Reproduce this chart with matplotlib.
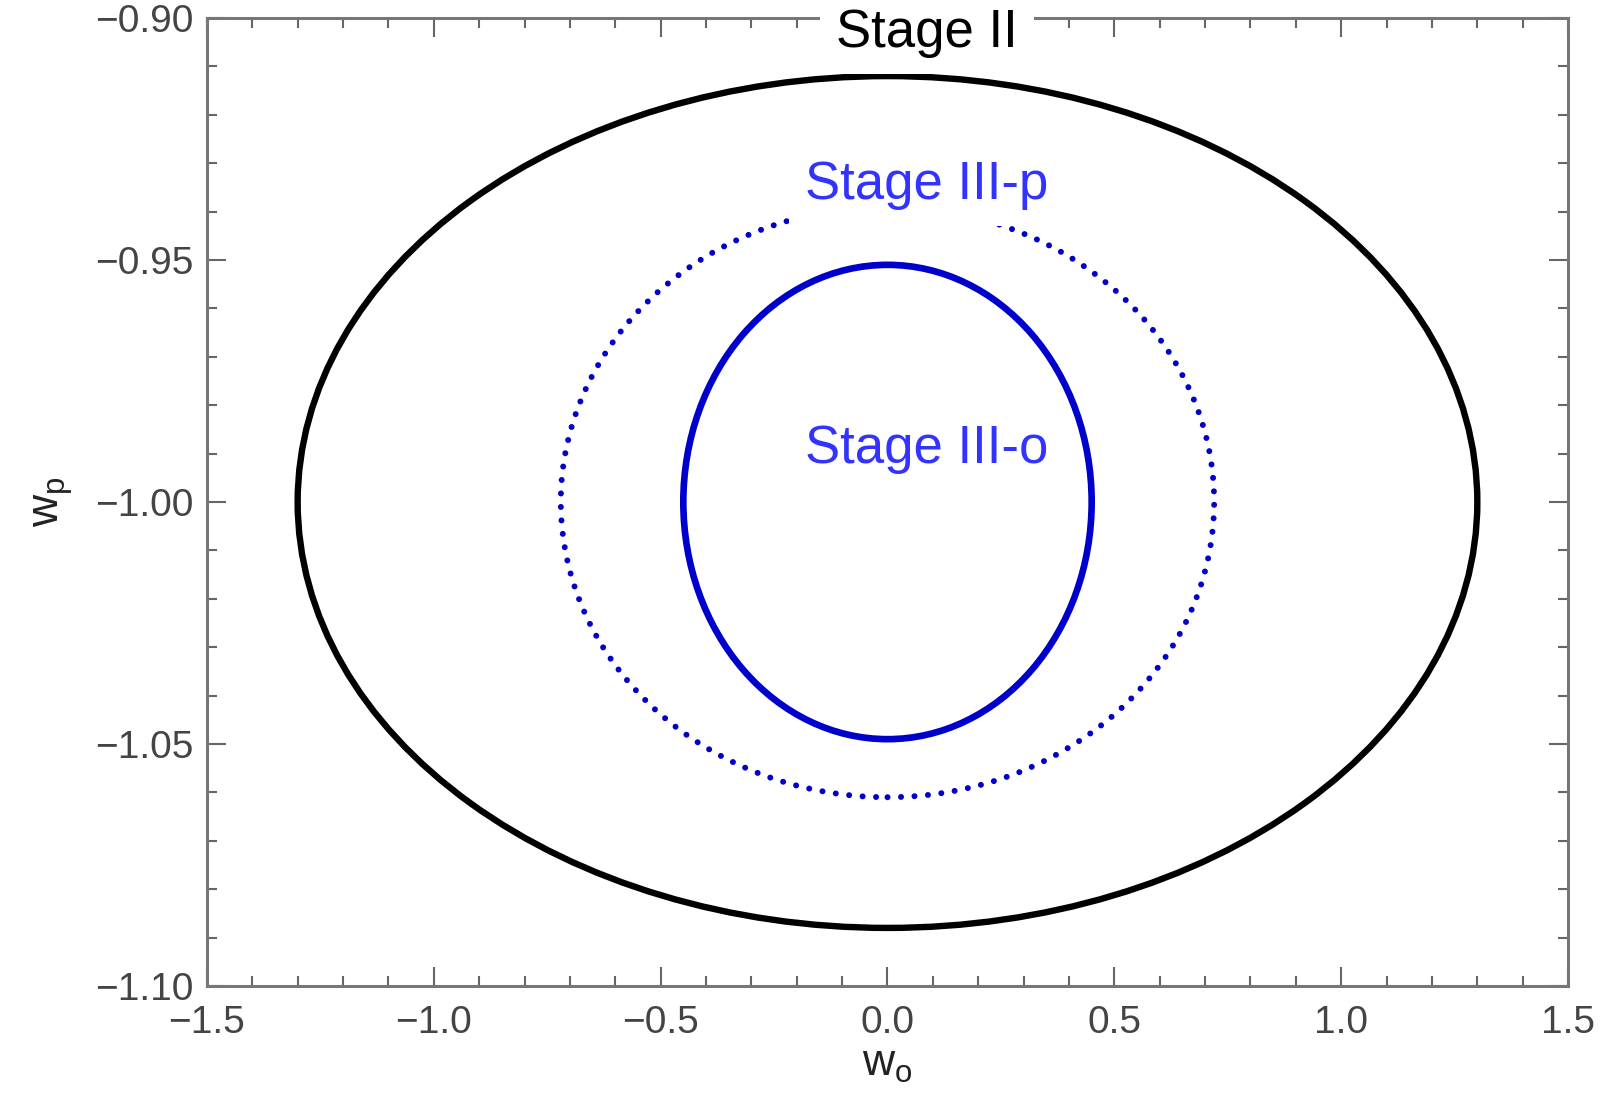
#!/usr/bin/env python3
"""Forecast ellipses in the (w_o, w_p) plane for Stage II / III surveys."""
import matplotlib
matplotlib.use('Agg')
import matplotlib.pyplot as plt
from matplotlib.patches import Ellipse
from matplotlib.ticker import MultipleLocator

plt.rcParams['font.family'] = ['Liberation Sans', 'DejaVu Sans']

# ellipse parameters: centre (w_o, w_p) and half-widths
CENTER = (0.0, -1.0)
STAGES = ['Stage II', 'Stage III-p', 'Stage III-o']
HALF_WO = [1.30, 0.72, 0.45]
HALF_WP = [0.088, 0.061, 0.049]

XTICKS = [-1.5, -1.0, -0.5, 0.0, 0.5, 1.0, 1.5]
YTICKS = [-1.10, -1.05, -1.00, -0.95, -0.90]

BLUE_LINE = '#0000cc'
BLUE_TEXT = '#3333ff'
GRAY = '#666666'


def main():
    fig = plt.figure(figsize=(16.04, 11.05), dpi=100)
    ax = fig.add_axes([0.129, 0.1077, 0.8486, 0.876])

    styles = [
        dict(edgecolor='black', linewidth=4.6, linestyle='-'),
        dict(edgecolor=BLUE_LINE, linewidth=4.3, linestyle=(0, (0.01, 2.25)),
             capstyle='round'),
        dict(edgecolor=BLUE_LINE, linewidth=4.8, linestyle='-'),
    ]
    for hw, hp, st in zip(HALF_WO, HALF_WP, styles):
        ax.add_patch(Ellipse(CENTER, 2 * hw, 2 * hp, facecolor='none', **st))

    ax.set_xlim(-1.5, 1.5)
    ax.set_ylim(-1.10, -0.90)
    ax.set_xticks(XTICKS)
    ax.set_xticklabels([f'{v:.1f}'.replace('-', '\u2212') for v in XTICKS])
    ax.set_yticks(YTICKS)
    ax.set_yticklabels([f'{v:.2f}'.replace('-', '\u2212') for v in YTICKS])
    ax.xaxis.set_minor_locator(MultipleLocator(0.1))
    ax.yaxis.set_minor_locator(MultipleLocator(0.01))
    ax.tick_params(which='both', direction='in', top=True, right=True,
                   color=GRAY, width=1.5, labelcolor='#444444', labelsize=28)
    ax.tick_params(which='major', length=14)
    ax.tick_params(which='minor', length=7)
    ax.tick_params(axis='y', pad=10)
    ax.tick_params(axis='x', pad=14)
    for sp in ax.spines.values():
        sp.set_color('#777777')
        sp.set_linewidth(2.2)

    ax.set_xlabel(r'$\mathregular{w_o}$', fontsize=32, color='#222222', labelpad=2)
    ax.set_ylabel(r'$\mathregular{w_p}$', fontsize=32, color='#222222', labelpad=14)

    # labels, with white boxes that cut the curves they sit on
    ax.text(0.087, -0.9032, STAGES[0], fontsize=38, color='black',
            ha='center', va='center', zorder=5, clip_on=False,
            bbox=dict(boxstyle='square,pad=0.3', facecolor='white',
                      edgecolor='none'))
    ax.text(0.087, -0.9345, STAGES[1], fontsize=38, color=BLUE_TEXT,
            ha='center', va='center', zorder=5,
            bbox=dict(boxstyle='square,pad=0.3', facecolor='white',
                      edgecolor='none'))
    ax.text(0.087, -0.989, STAGES[2], fontsize=38, color=BLUE_TEXT,
            ha='center', va='center', zorder=5)

    fig.savefig('out.png', dpi=100)


if __name__ == '__main__':
    main()
